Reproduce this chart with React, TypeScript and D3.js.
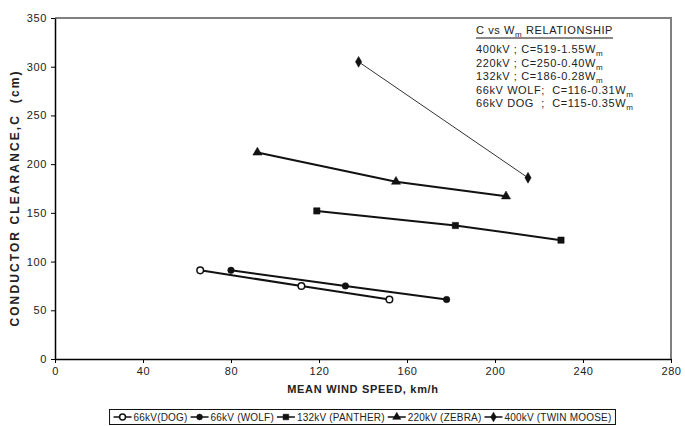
import React, { useRef, useEffect } from 'react';
import * as d3 from 'd3';

// axis ticks
const xTicks = [0, 40, 80, 120, 160, 200, 240, 280];
const yTicks = [0, 50, 100, 150, 200, 250, 300, 350];

// series (mean wind speed km/h -> clearance cm)
const seriesNames = ['66kV(DOG)', '66kV (WOLF)', '132kV (PANTHER)', '220kV (ZEBRA)', '400kV (TWIN MOOSE)'];
const dogSpeed = [66, 112, 152];
const dogClearance = [91, 75, 61];
const wolfSpeed = [80, 132, 178];
const wolfClearance = [91, 75, 61];
const pantherSpeed = [119, 182, 230];
const pantherClearance = [152, 137, 122];
const zebraSpeed = [92, 155, 205];
const zebraClearance = [212, 182, 167];
const mooseSpeed = [138, 215];
const mooseClearance = [305, 186];

// relationship box
const relationTitle = 'C vs W';
const relationLines = [
  '400kV ; C=519-1.55W',
  '220kV ; C=250-0.40W',
  '132kV ; C=186-0.28W',
  '66kV WOLF;  C=116-0.31W',
  '66kV DOG  ;  C=115-0.35W',
];

const FONT = 'Arial, "Liberation Sans", Helvetica, sans-serif';

const App = () => {
  const svgRef = useRef<SVGSVGElement>(null);

  useEffect(() => {
    const svg = d3.select(svgRef.current);
    svg.selectAll('*').remove();

    const W = 685, H = 426;
    const margin = { top: 18, right: 14, bottom: 67, left: 55 };
    const width = W - margin.left - margin.right;
    const height = H - margin.top - margin.bottom;

    const x = d3.scaleLinear().domain([0, 280]).range([0, width]);
    const y = d3.scaleLinear().domain([0, 350]).range([height, 0]);

    const g = svg.append('g').attr('transform', `translate(${margin.left},${margin.top})`);

    // gray frame top/right
    g.append('path')
      .attr('d', `M0,0H${width}V${height}`)
      .attr('fill', 'none')
      .attr('stroke', '#808080')
      .attr('stroke-width', 2);

    // axes
    const xAxis = g.append('g')
      .attr('transform', `translate(0,${height})`)
      .call(d3.axisBottom(x).tickValues(xTicks).tickSize(4).tickSizeOuter(0));
    const yAxis = g.append('g')
      .call(d3.axisLeft(y).tickValues(yTicks).tickSize(4).tickSizeOuter(0));

    [xAxis, yAxis].forEach(a => {
      a.select('.domain').attr('stroke', '#000').attr('stroke-width', 1.5);
      a.selectAll('.tick line').attr('stroke', '#000');
      a.selectAll('text')
        .style('font-family', FONT)
        .style('font-size', '11px')
        .style('letter-spacing', '0.6px')
        .attr('fill', '#222');
    });
    yAxis.selectAll('text').attr('x', -8);
    xAxis.selectAll('text').attr('y', 8);

    // axis titles
    g.append('text')
      .attr('x', width / 2)
      .attr('y', height + 34)
      .attr('text-anchor', 'middle')
      .style('font-family', FONT)
      .style('font-size', '11px')
      .style('font-weight', 'bold')
      .style('letter-spacing', '0.7px')
      .attr('fill', '#222')
      .text('MEAN WIND SPEED, km/h');

    g.append('text')
      .attr('transform', `translate(${-36},${180}) rotate(-90)`)
      .attr('text-anchor', 'middle')
      .style('font-family', FONT)
      .style('font-size', '12px')
      .style('font-weight', 'bold')
      .style('letter-spacing', '2.1px')
      .style('white-space', 'pre')
      .attr('fill', '#222')
      .text('CONDUCTOR CLEARANCE,C  (cm)');

    // series
    const series = [
      { speed: dogSpeed, clr: dogClearance, symbol: d3.symbolCircle, size: 34, open: true, thin: false },
      { speed: wolfSpeed, clr: wolfClearance, symbol: d3.symbolCircle, size: 34, open: false, thin: false },
      { speed: pantherSpeed, clr: pantherClearance, symbol: d3.symbolSquare, size: 40, open: false, thin: false },
      { speed: zebraSpeed, clr: zebraClearance, symbol: d3.symbolTriangle, size: 36, open: false, thin: false },
      { speed: mooseSpeed, clr: mooseClearance, symbol: d3.symbolDiamond, size: 34, open: false, thin: true },
    ];

    const line = d3.line<[number, number]>().x(d => x(d[0])).y(d => y(d[1]));

    series.forEach(s => {
      const pts = s.speed.map((v, i) => [v, s.clr[i]] as [number, number]);
      g.append('path')
        .datum(pts)
        .attr('d', line)
        .attr('fill', 'none')
        .attr('stroke', s.thin ? '#333' : '#111')
        .attr('stroke-width', s.thin ? 1 : 2);
      g.selectAll(null)
        .data(pts)
        .join('path')
        .attr('transform', d => `translate(${x(d[0])},${y(d[1])})`)
        .attr('d', d3.symbol().type(s.symbol).size(s.size)())
        .attr('fill', s.open ? '#fff' : '#111')
        .attr('stroke', '#111')
        .attr('stroke-width', s.open ? 1.5 : 0.5);
    });

    // relationship box
    const rx = 421, ry = 16;
    const box = g.append('g').attr('transform', `translate(${rx},${ry})`)
      .style('font-family', FONT)
      .style('font-size', '11px')
      .style('letter-spacing', '0.6px')
      .attr('fill', '#222');

    const title = box.append('text').attr('y', 0);
    title.append('tspan').text(relationTitle);
    title.append('tspan').attr('dy', 3).style('font-size', '8px').text('m');
    title.append('tspan').attr('dy', -3).text(' RELATIONSHIP');
    const tw = (title.node() as SVGTextElement).getComputedTextLength();
    box.append('line')
      .attr('x1', 0).attr('x2', tw)
      .attr('y1', 4).attr('y2', 4)
      .attr('stroke', '#111').attr('stroke-width', 1);

    relationLines.forEach((t, i) => {
      const tx = box.append('text').attr('y', 19 + i * 13.5).style('white-space', 'pre');
      tx.append('tspan').text(t);
      tx.append('tspan').attr('dy', 3).style('font-size', '8px').text('m');
    });

    // legend
    const lg = svg.append('g')
      .style('font-family', FONT)
      .style('font-size', '10px')
      .style('letter-spacing', '0.2px');
    const legendY = 417;
    let cx = 0;
    const items = lg.append('g');
    series.forEach((s, i) => {
      const it = items.append('g').attr('transform', `translate(${cx},0)`);
      it.append('line').attr('x1', 0).attr('x2', 18).attr('y1', 0).attr('y2', 0)
        .attr('stroke', '#111').attr('stroke-width', 1.5);
      it.append('path')
        .attr('transform', 'translate(9,0)')
        .attr('d', d3.symbol().type(s.symbol).size(s.size * 0.8)())
        .attr('fill', s.open ? '#fff' : '#111')
        .attr('stroke', '#111')
        .attr('stroke-width', s.open ? 1.5 : 0.5);
      const t = it.append('text').attr('x', 20).attr('dy', '0.35em').attr('fill', '#222').text(seriesNames[i]);
      cx += 20 + (t.node() as SVGTextElement).getComputedTextLength() + 3;
    });
    const totalW = cx - 3;
    const pad = 4;
    const lx = 362.5 - totalW / 2;
    items.attr('transform', `translate(${lx},${legendY})`);
    lg.insert('rect', ':first-child')
      .attr('x', lx - pad)
      .attr('y', legendY - 7.5)
      .attr('width', totalW + pad * 2)
      .attr('height', 15)
      .attr('fill', '#fff')
      .attr('stroke', '#111')
      .attr('stroke-width', 1);
  }, []);

  return (
    <div style={{ position: 'absolute', left: 0, top: 0, width: 685, height: 426, background: '#fff' }}>
      <svg ref={svgRef} width={685} height={426} style={{ display: 'block' }} />
    </div>
  );
};

export default App;
